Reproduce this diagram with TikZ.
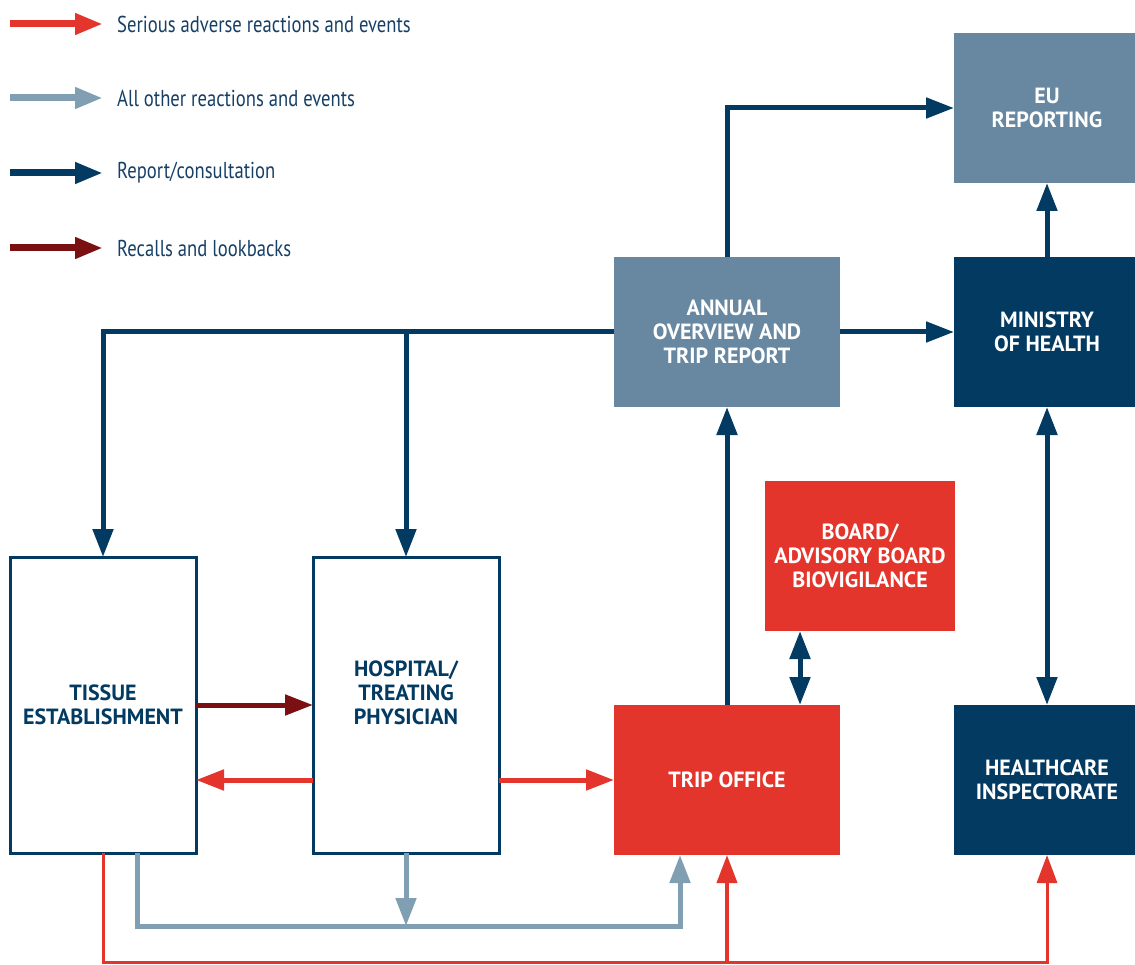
\documentclass[tikz,border=0pt]{standalone}
\usepackage{fontspec}
\newfontfamily\legfont[FakeStretch=0.81]{PT Sans}
\newfontfamily\boxfont{PT Sans}
\usetikzlibrary{arrows.meta}
\definecolor{rd}{HTML}{E4352C}
\definecolor{nv}{HTML}{023A62}
\definecolor{st}{HTML}{6788A0}
\definecolor{gy}{HTML}{819FB3}
\definecolor{dr}{HTML}{7A1012}
\definecolor{txt}{HTML}{163F66}
\begin{document}
\begin{tikzpicture}[x=1pt,y=-1pt,
  tip/.style={-{Triangle[length=28pt,width=20pt]}},
  dtip/.style={{Triangle[length=28pt,width=20pt]}-{Triangle[length=28pt,width=20pt]}},
  boxbase/.style={rectangle, inner sep=0pt, outer sep=0pt, align=center,
    font=\boxfont\bfseries\fontsize{22}{24}\selectfont},
  fbox/.style={boxbase, fill=#1, text=white},
  obox/.style={boxbase, draw=nv, line width=3pt, fill=white, text=nv},
  navyline/.style={draw=nv, line width=5pt, tip},
  redline/.style={draw=rd, line width=5pt, tip},
  thinred/.style={draw=rd, line width=3pt},
  greyline/.style={draw=gy, line width=5pt},
  darkline/.style={draw=dr, line width=5pt, tip},
  legtext/.style={anchor=west, inner sep=0pt, text=txt, font=\legfont\fontsize{23}{24}\selectfont},
  legarrow/.style={line width=7pt, tip}
]
\useasboundingbox (0,0) rectangle (1135,965);
\clip (0,0) rectangle (1135,965);

% legend
\node[legtext] (l1) at (117,24) {Serious adverse reactions and events};
\node[legtext] (l2) at (117,98) {All other reactions and events};
\node[legtext] (l3) at (117,173) {Report/consultation};
\node[legtext] (l4) at (117,248) {Recalls and lookbacks};
\draw[legarrow, draw=rd] ([xshift=-107pt]l1.west) -- ([xshift=-14pt]l1.west);
\draw[legarrow, draw=gy] ([xshift=-107pt]l2.west) -- ([xshift=-14pt]l2.west);
\draw[legarrow, draw=nv] ([xshift=-107pt]l3.west) -- ([xshift=-14pt]l3.west);
\draw[legarrow, draw=dr] ([xshift=-107pt]l4.west) -- ([xshift=-14pt]l4.west);

% boxes
\node[fbox=st, minimum width=186pt, minimum height=150pt] (eu) at (1047,108) {EU\\REPORTING};
\node[fbox=st, minimum width=226pt, minimum height=150pt] (annual) at (727,332) {ANNUAL\\OVERVIEW AND\\TRIP REPORT};
\node[fbox=nv, minimum width=186pt, minimum height=150pt] (ministry) at (1047,332) {MINISTRY\\OF HEALTH};
\node[fbox=rd, minimum width=190pt, minimum height=150pt] (board) at (860,556) {BOARD/\\ADVISORY BOARD\\BIOVIGILANCE};
\node[fbox=rd, minimum width=226pt, minimum height=150pt] (trip) at (727,780) {TRIP OFFICE};
\node[fbox=nv, minimum width=186pt, minimum height=150pt] (health) at (1047,780) {HEALTHCARE\\INSPECTORATE};
\node[obox, minimum width=186pt, minimum height=296pt] (tissue) at (103,705) {TISSUE\\ESTABLISHMENT};
\node[obox, minimum width=186pt, minimum height=296pt] (hospital) at (406,705) {};
\node[boxbase, text=nv] (hosptext) at (406,693) {HOSPITAL/\\TREATING\\PHYSICIAN};

% report / consultation
\draw[navyline] (annual.north) |- (eu.west);
\draw[navyline] (ministry.north) -- (eu.south);
\draw[navyline] (annual.east) -- (ministry.west);
\draw[navyline] (annual.west) -| (tissue.north);
\draw[navyline] (hospital.north |- annual.west) -- (hospital.north);
\draw[navyline] (trip.north) -- (annual.south);
\draw[draw=nv, line width=5pt, dtip] ([xshift=73pt]trip.north) -- ([xshift=73pt]trip.north |- board.south);
\draw[draw=nv, line width=5pt, dtip] (ministry.south) -- (health.north);

% recalls
\draw[darkline] (tissue.east) -- (tissue.east -| hospital.west);

% serious
\draw[redline] (hospital.west |- trip.west) -- (tissue.east |- trip.west);
\draw[redline] (hospital.east |- trip.west) -- (trip.west);

% other reactions
\draw[greyline, tip] ([xshift=34pt]tissue.south) -- ++(0,73) -| ([xshift=-47pt]trip.south);
\draw[greyline, tip] (hospital.south) -- ++(0,73);

% serious bottom route
\draw[thinred, tip] (tissue.south) -- ++(0,109) -| (health.south);
\draw[draw=rd, line width=4pt, tip] ([yshift=-107pt]trip.south) -- (trip.south);
\end{tikzpicture}
\end{document}
